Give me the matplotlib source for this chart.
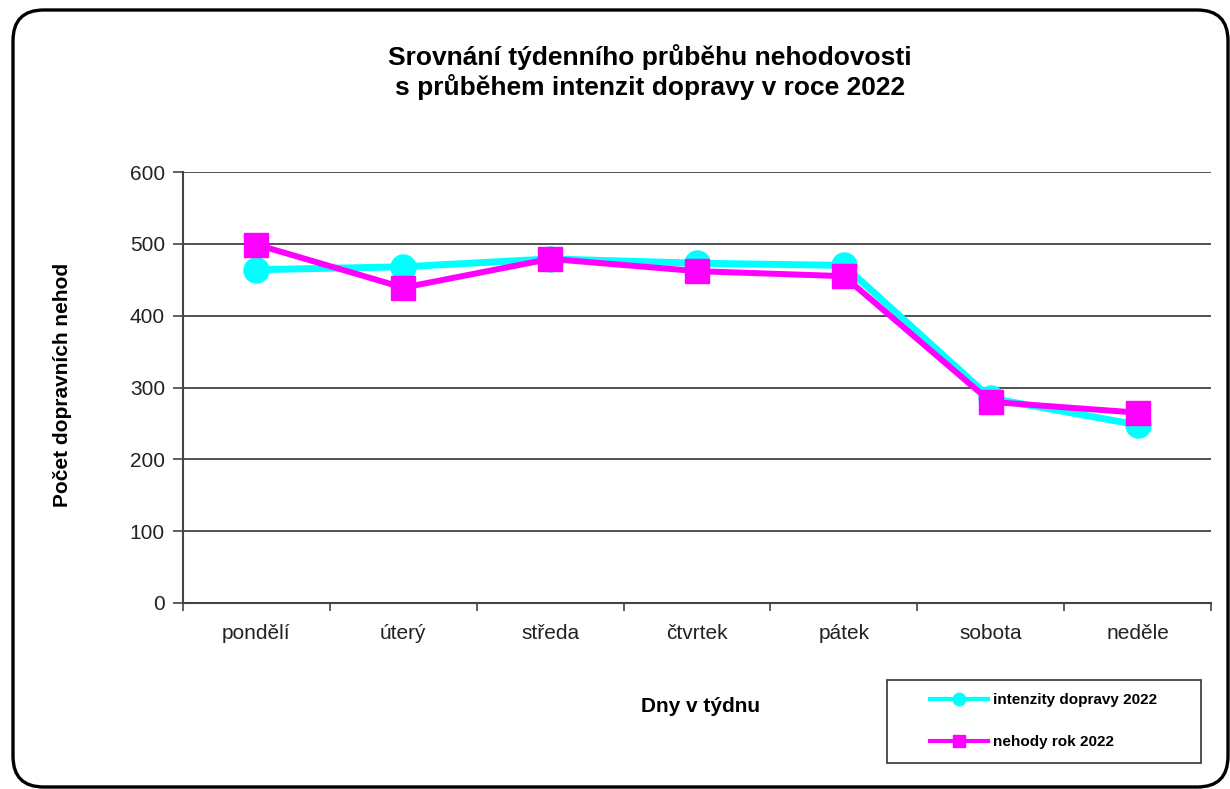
import matplotlib
matplotlib.use("Agg")
import matplotlib.pyplot as plt
from matplotlib.patches import FancyBboxPatch, Rectangle

plt.rcParams['font.family'] = ['Liberation Sans', 'DejaVu Sans']

days = ["pondělí", "úterý", "středa", "čtvrtek", "pátek", "sobota", "neděle"]
intenzity = [464, 468, 479, 473, 470, 285, 248]
nehody = [499, 439, 479, 462, 455, 280, 265]
yticks = [0, 100, 200, 300, 400, 500, 600]

W, H = 1230, 789
fig = plt.figure(figsize=(W / 100, H / 100), dpi=100)
fig.patch.set_facecolor("white")

# outer rounded border
border = FancyBboxPatch((13 / W, 2 / H), (1215 / W), (777 / H),
                        boxstyle="round,pad=0,rounding_size=0.025",
                        transform=fig.transFigure, fill=False,
                        edgecolor="black", linewidth=2.4, clip_on=False,
                        mutation_aspect=W / H)
fig.patches.append(border)

ax = fig.add_axes([183 / W, (H - 603) / H, (1211 - 183) / W, (603 - 172) / H])
x = list(range(len(days)))

ax.plot(x, intenzity, color="#00FFFF", linewidth=5, marker="o",
        markersize=18, label="intenzity dopravy 2022", zorder=3)
ax.plot(x, nehody, color="#FF00FF", linewidth=4.3, marker="s",
        markersize=17, label="nehody rok 2022", zorder=4)

ax.set_xlim(-0.5, len(days) - 0.5)
ax.set_ylim(0, 600)
ax.set_yticks(yticks)
ax.yaxis.grid(True, color="#333333", linewidth=1.2)
ax.set_axisbelow(True)

for s in ["top", "right"]:
    ax.spines[s].set_visible(False)
ax.spines["left"].set_color("#444444")
ax.spines["left"].set_linewidth(1.5)
ax.spines["bottom"].set_color("#444444")
ax.spines["bottom"].set_linewidth(1.5)

ax.set_xticks([i - 0.5 for i in range(len(days) + 1)])
ax.set_xticklabels([])
ax.set_xticks(x, minor=True)
ax.set_xticklabels(days, minor=True)
ax.tick_params(axis="x", which="major", direction="out", length=6,
               color="#444444", width=1.2)
ax.tick_params(axis="x", which="minor", length=0, pad=15,
               labelsize=15, labelcolor="#222222")
ax.tick_params(axis="y", direction="out", length=7, color="#444444",
               width=1.2, labelsize=15, labelcolor="#222222", pad=6)

fig.text(650 / W, 1 - 72 / H,
         "Srovnání týdenního průběhu nehodovosti\ns průběhem intenzit dopravy v roce 2022",
         ha="center", va="center", fontsize=19, fontweight="bold",
         linespacing=1.17)
fig.text(62 / W, 1 - 385 / H, "Počet dopravních nehod", rotation=90,
         ha="center", va="center", fontsize=15, fontweight="bold")
fig.text(701 / W, 1 - 706 / H, "Dny v týdnu", ha="center", va="center",
         fontsize=15, fontweight="bold")

# legend frame
frame = Rectangle((887 / W, 1 - 763 / H), (1201 - 887) / W, (763 - 680) / H,
                  transform=fig.transFigure, fill=False,
                  edgecolor="#333333", linewidth=1.2)
fig.patches.append(frame)

leg = fig.legend(loc="center left",
                 bbox_to_anchor=(930 / W, 1 - 721 / H),
                 frameon=False,
                 prop={"weight": "bold", "size": 11},
                 handlelength=3.8, labelspacing=1.85, borderpad=0,
                 markerscale=0.5, handletextpad=0.3, borderaxespad=0)
for h in leg.legend_handles:
    h.set_linewidth(3)

fig.savefig("out.png", dpi=100, facecolor="white")
